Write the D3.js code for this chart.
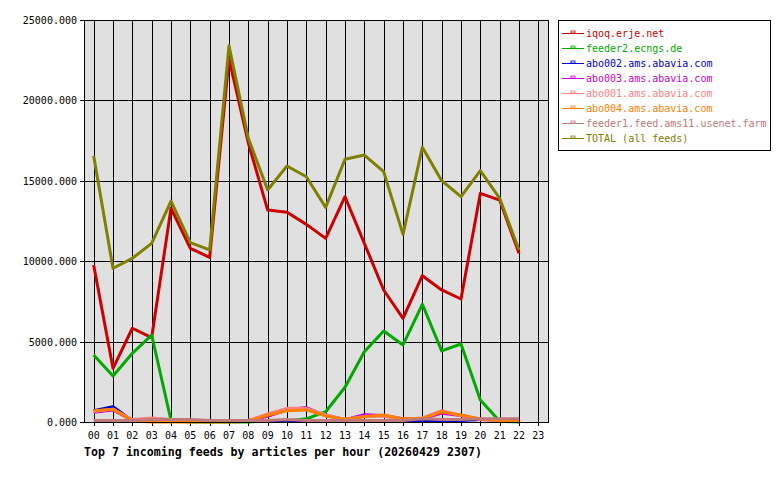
<!DOCTYPE html>
<html>
<head>
<meta charset="utf-8">
<script src="https://cdn.jsdelivr.net/npm/d3@7"></script>
<style>
  body { margin: 0; background: #fff; }
  text { font-family: "DejaVu Sans Mono", monospace; }
</style>
</head>
<body>
<script>
// hours of the day (tick labels)
const hours = ["00","01","02","03","04","05","06","07","08","09","10","11",
               "12","13","14","15","16","17","18","19","20","21","22","23"];
const yTicks = [0, 5000, 10000, 15000, 20000, 25000];

const feedNames = ["iqoq.erje.net", "feeder2.ecngs.de", "abo002.ams.abavia.com",
  "abo003.ams.abavia.com", "abo001.ams.abavia.com", "abo004.ams.abavia.com",
  "feeder1.feed.ams11.usenet.farm", "TOTAL (all feeds)"];
const feedColors = ["#cc0000", "#00aa00", "#0000cc", "#cc00cc",
  "#ff8080", "#ff8000", "#c07878", "#808000"];

// articles per hour, 00..22
const iqoq    = [9760, 3340, 5830, 5250, 13290, 10800, 10240, 22600, 17350, 13180, 13040, 12290,
                 11420, 14010, 11110, 8210, 6450, 9100, 8210, 7650, 14220, 13800, 10490];
const feeder2 = [4170, 2860, 4270, 5410, 100, 0, 0, 0, 0, 80, 60, 200,
                 640, 2160, 4370, 5660, 4790, 7320, 4420, 4850, 1370, 50, 0];
const abo002  = [700, 950, 80, 100, 100, 100, 100, 100, 100, 100, 100, 100,
                 100, 100, 100, 100, 100, 100, 100, 100, 150, 150, 150];
const abo003  = [600, 750, 100, 150, 100, 100, 100, 100, 100, 350, 750, 900,
                 400, 150, 450, 400, 200, 200, 550, 400, 150, 100, 100];
const abo001  = [650, 800, 150, 250, 150, 100, 50, 50, 100, 500, 850, 850,
                 450, 150, 350, 350, 150, 250, 700, 400, 150, 100, 50];
const abo004  = [700, 800, 80, 0, 0, 0, 0, 0, 50, 430, 700, 750,
                 370, 170, 330, 430, 190, 230, 640, 430, 190, 100, 50];
const feeder1 = [100, 100, 100, 150, 150, 150, 100, 100, 100, 100, 150, 100,
                 100, 100, 100, 100, 100, 200, 150, 150, 200, 200, 200];
const total   = [16560, 9560, 10180, 11110, 13740, 11150, 10700, 23400, 17640, 14430, 15920, 15250,
                 13350, 16340, 16600, 15570, 11670, 17080, 15010, 14010, 15630, 13910, 10700];

const series = [iqoq, feeder2, abo002, abo003, abo001, abo004, feeder1, total];

const pLeft = 84, pRight = 548, pTop = 20, pBottom = 422;

let svg = d3.select("body").append("svg")
  .attr("width", 780)
  .attr("height", 480);

const x = d3.scaleBand().domain(hours).range([pLeft, pRight]);
const xc = h => x(h) + x.bandwidth() / 2;
const y = d3.scaleLinear().domain([0, 25000]).range([pBottom, pTop]);

// plot background
svg.append("rect")
  .attr("x", pLeft).attr("y", pTop)
  .attr("width", pRight - pLeft).attr("height", pBottom - pTop)
  .attr("fill", "#e0e0e0");

// grid
const grid = svg.append("g").attr("shape-rendering", "crispEdges").attr("stroke", "#000");
grid.selectAll("line.v").data(hours).enter().append("line")
  .attr("x1", d => Math.round(xc(d)) + 0.5).attr("x2", d => Math.round(xc(d)) + 0.5)
  .attr("y1", pTop).attr("y2", pBottom + 4);
grid.selectAll("line.h").data(yTicks).enter().append("line")
  .attr("x1", pLeft - 4).attr("x2", pRight)
  .attr("y1", d => Math.round(y(d)) + 0.5).attr("y2", d => Math.round(y(d)) + 0.5);

// y labels
svg.selectAll("text.yl").data(yTicks).enter().append("text")
  .attr("x", pLeft - 7).attr("y", d => y(d) + 4)
  .attr("text-anchor", "end").attr("font-size", "10px").attr("fill", "#000")
  .text(d => d3.format(".3f")(d));

// x labels
svg.selectAll("text.xl").data(hours).enter().append("text")
  .attr("x", d => xc(d)).attr("y", 439)
  .attr("text-anchor", "middle").attr("font-size", "10px").attr("fill", "#000")
  .text(d => d);

// title
svg.append("text")
  .attr("x", pLeft).attr("y", 456)
  .attr("font-size", "11.6px").attr("font-weight", "bold").attr("fill", "#000")
  .text("Top 7 incoming feeds by articles per hour (20260429 2307)");

// lines
const line = d3.line().x((d, i) => xc(hours[i])).y(d => y(d));
svg.selectAll("path.feed").data(series).enter().append("path")
  .attr("d", d => line(d))
  .attr("fill", "none")
  .attr("stroke", (d, i) => feedColors[i])
  .attr("stroke-width", 3)
  .attr("stroke-linejoin", "round");

// frame on top of the lines
svg.append("rect")
  .attr("x", pLeft + 0.5).attr("y", pTop + 0.5)
  .attr("width", pRight - pLeft).attr("height", pBottom - pTop)
  .attr("fill", "none").attr("stroke", "#000")
  .attr("shape-rendering", "crispEdges");

// legend
const lg = svg.append("g");
lg.append("rect")
  .attr("x", 558.5).attr("y", 20.5).attr("width", 212).attr("height", 130)
  .attr("fill", "#fff").attr("stroke", "#000").attr("shape-rendering", "crispEdges");
const item = lg.selectAll("g.item").data(feedNames).enter().append("g")
  .attr("transform", (d, i) => "translate(0," + (33 + i * 15) + ")");
item.append("line")
  .attr("x1", 562).attr("x2", 584).attr("y1", 0.5).attr("y2", 0.5)
  .attr("stroke", (d, i) => feedColors[i]).attr("shape-rendering", "crispEdges");
item.append("rect")
  .attr("x", 571).attr("y", -2).attr("width", 4).attr("height", 2)
  .attr("fill", "#fff").attr("stroke", (d, i) => feedColors[i])
  .attr("stroke-width", 0.8);
item.append("text")
  .attr("x", 586).attr("y", 4)
  .attr("font-size", "10px").attr("fill", (d, i) => feedColors[i])
  .text(d => d);
</script>
</body>
</html>
